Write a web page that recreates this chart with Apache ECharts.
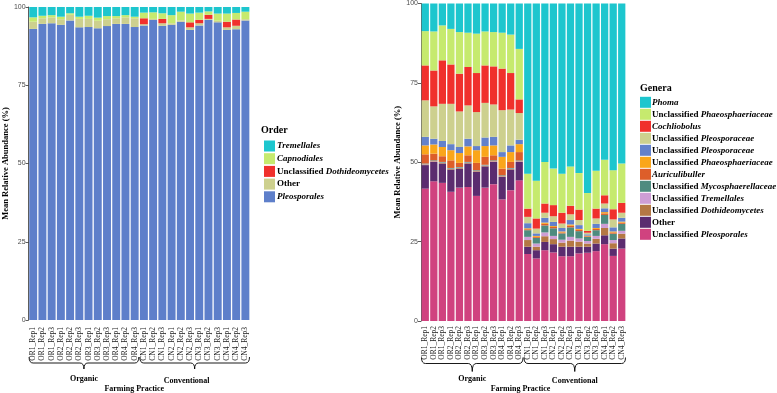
<!DOCTYPE html>
<html><head><meta charset="utf-8">
<script src="https://cdn.jsdelivr.net/npm/echarts@6/dist/echarts.min.js"></script>
<style>html,body{margin:0;padding:0;background:#fff}#c{width:777px;height:393px}</style>
</head><body><div id="c"></div>
<script>
// ---------- categories ----------
const samples = ['OR1_Rep1','OR1_Rep2','OR1_Rep3','OR2_Rep1','OR2_Rep2','OR2_Rep3','OR3_Rep1','OR3_Rep2','OR3_Rep3','OR4_Rep1','OR4_Rep2','OR4_Rep3',
                 'CN1_Rep1','CN1_Rep2','CN1_Rep3','CN2_Rep1','CN2_Rep2','CN2_Rep3','CN3_Rep1','CN3_Rep2','CN3_Rep3','CN4_Rep1','CN4_Rep2','CN4_Rep3'];
const groups = ['Organic','Conventional'];
const groupSize = 12;
const yTicks = [0,25,50,75,100];

// ---------- Order (left) — stacked bottom-up ----------
const orderNames = ['Pleosporales','Other','Unclassified Dothideomycetes','Capnodiales','Tremellales'];
const ordPleosporales = [93.0,94.6,94.8,94.3,95.7,93.5,93.6,93.2,93.9,94.6,94.6,93.6, 94.1,95.9,94.0,94.3,95.3,92.7,94.1,95.9,95.1,92.7,92.9,95.7];
const ordOther        = [2.3,1.8,1.9,1.8,1.8,2.7,2.6,2.4,2.2,1.8,2.1,2.8, 0.4,0.3,0.8,0.5,0.4,0.8,0.7,0.3,0.5,0.8,1.1,0.4];
const ordDothideo     = [0,0,0,0,0,0,0,0,0,0,0,0, 1.9,0,1.4,0,0,1.6,1.1,1.3,0,1.8,2.0,0];
const ordCapnodiales  = [1.4,0.8,0.7,0.8,0.5,0.7,1.0,1.0,1.0,0.7,0.7,0.5, 1.8,2.1,1.8,2.6,2.8,2.8,2.3,1.1,2.3,2.6,2.1,2.4];
const ordTremellales  = [3.3,2.8,2.6,3.1,2.0,3.1,2.8,3.4,2.9,2.9,2.6,3.1, 1.8,1.7,2.0,2.6,1.5,2.1,1.8,1.4,2.1,2.1,1.9,1.5];
const orderValues = [ordPleosporales, ordOther, ordDothideo, ordCapnodiales, ordTremellales];
const orderColors = ['#5E7FCA','#CDD08E','#F0302C','#C6EA6E','#1DC6CE'];

// ---------- Genera (right) — stacked bottom-up ----------
const generaNames = ['Unclassified Pleosporales','Other','Unclassified Dothideomycetes','Unclassified Tremellales','Unclassified Mycosphaerellaceae',
  'Auriculibuller','Unclassified Phaeosphaeriaceae','Unclassified Pleosporaceae','Unclassified Pleosporaceae','Cochliobolus','Unclassified Phaeosphaeriaceae','Phoma'];
const genPleosporales = [41.7,44.0,43.5,40.7,42.0,42.2,39.4,42.0,43.1,38.3,41.2,44.3, 21.1,19.7,22.3,21.6,20.4,20.4,21.3,21.5,22.0,24.2,20.5,22.8];
const genOther        = [7.4,6.1,6.1,7.0,6.0,7.4,7.6,6.7,7.0,7.1,6.5,5.8, 2.3,2.6,2.6,2.6,3.0,3.0,2.1,1.9,2.4,2.8,2.3,3.2];
const genDothideo     = [0.2,0.2,0.2,0.2,0.2,0.2,0.2,0.2,0.2,0.2,0.2,0.2, 2.1,1.1,1.8,1.6,1.3,1.9,1.6,1.0,1.5,2.3,1.7,1.5];
const genTremellales  = [0.1,0.1,0.1,0.1,0.1,0.1,0.1,0.1,0.1,0.1,0.1,0.1, 1.0,1.0,1.2,1.0,0.9,1.2,1.0,0.8,0.9,1.3,1.0,0.9];
const genMycosph      = [0.2,0.2,0.2,0.2,0.2,0.2,0.2,0.2,0.2,0.2,0.2,0.2, 2.1,1.8,2.2,2.4,2.0,3.0,2.3,1.3,1.8,2.8,2.0,2.2];
const genAuricul      = [2.9,2.1,1.8,2.4,1.3,2.1,2.3,2.5,1.6,2.1,1.9,2.6, 0.3,0.3,0.5,0.4,0.3,0.5,0.4,0.2,0.4,0.5,0.4,0.4];
const genPhaeoOrange  = [2.8,2.9,2.9,3.2,3.1,2.8,4.0,3.4,3.1,3.7,3.1,2.5, 0.3,0.3,0.4,0.3,0.3,0.4,0.3,0.2,0.3,0.4,0.3,0.3];
const genPleoBlue     = [2.7,1.8,1.9,1.9,1.9,2.4,1.3,2.7,2.7,1.5,2.1,1.4, 1.6,0.8,1.5,1.3,1.1,1.4,1.2,0.4,1.3,1.2,1.3,1.2];
const genPleoKhaki    = [11.5,10.2,11.7,12.7,11.2,10.5,10.7,10.9,10.2,13.2,11.3,8.4, 2.0,1.5,1.6,1.8,1.4,1.8,1.6,0.5,1.7,1.5,2.5,1.6];
const genCochliobolus = [11.0,11.3,13.7,12.4,11.9,12.1,12.3,11.8,12.0,13.1,11.5,4.3, 2.6,3.2,2.9,3.5,3.4,2.7,3.3,0.6,3.1,2.6,3.2,3.1];
const genPhaeoGreen   = [10.8,12.3,11.0,11.2,13.1,10.8,12.4,10.7,10.8,11.3,12.1,15.9, 11.0,11.9,13.1,11.5,12.3,12.4,11.5,11.9,11.9,11.2,12.3,12.4];
const genPhoma        = [8.7,8.8,6.9,8.0,9.0,9.2,9.5,8.8,9.0,9.2,9.8,14.3, 53.6,55.8,49.9,52.0,53.6,51.3,53.4,59.7,52.7,49.2,52.5,50.4];
const generaValues = [genPleosporales,genOther,genDothideo,genTremellales,genMycosph,genAuricul,genPhaeoOrange,genPleoBlue,genPleoKhaki,genCochliobolus,genPhaeoGreen,genPhoma];
const generaColors = ['#D0427F','#5B2C6F','#B47844','#CE9ED5','#4E8B7F','#DD5E2A','#FAA61A','#6381CB','#CDD08E','#F0302C','#C6EA6E','#1DC6CE'];

// ---------- build ----------
const SERIF = '"Liberation Serif","Times New Roman",serif';
const SANS = '"Liberation Sans",Arial,sans-serif';
const chart = echarts.init(document.getElementById('c'), null, {renderer:'canvas'});

const series = [];
const ordSeriesNames = orderNames.map((n,i)=>'O'+i+'|'+n);
const genSeriesNames = generaNames.map((n,i)=>'G'+i+'|'+n);
orderValues.forEach((vals,i)=>series.push({
  name: ordSeriesNames[i], type:'bar', stack:'order', xAxisIndex:0, yAxisIndex:0,
  data: vals, itemStyle:{color:orderColors[i]}, barCategoryGap:'14%'
}));
generaValues.forEach((vals,i)=>series.push({
  name: genSeriesNames[i], type:'bar', stack:'genera', xAxisIndex:1, yAxisIndex:1,
  data: vals, itemStyle:{color:generaColors[i]}, barCategoryGap:'15%'
}));

function legendLabel(name){
  const n = name.split('|')[1];
  if (n.indexOf('Unclassified ')===0) return '{b|Unclassified }{i|'+n.slice(13)+'}';
  if (n==='Other') return '{b|Other}';
  return '{i|'+n+'}';
}
const rich = {
  b:{fontFamily:SERIF,fontWeight:'bold',fontSize:9,color:'#000',lineHeight:11},
  i:{fontFamily:SERIF,fontWeight:'bold',fontStyle:'italic',fontSize:9,color:'#000',lineHeight:11}
};

function yAxis(gi){
  return {
    gridIndex:gi, type:'value', min:0, max:100, interval:25,
    name:'Mean Relative Abundance (%)', nameLocation:'middle', nameGap:gi===0?17:18,
    nameTextStyle:{fontFamily:SERIF,fontWeight:'bold',fontSize:8.5,color:'#000'},
    axisLine:{show:true,lineStyle:{color:'#333',width:0.8}},
    axisTick:{show:true,length:3,lineStyle:{color:'#333',width:0.8}},
    axisLabel:{fontFamily:SANS,fontSize:7,color:'#4d4d4d',margin:3,
      formatter:v=>yTicks.indexOf(v)>=0?String(v):''},
    splitLine:{show:false}
  };
}
function xAxis(gi){
  return {
    gridIndex:gi, type:'category', data:samples,
    axisLine:{show:false}, axisTick:{show:false},
    axisLabel:{interval:0,rotate:90,fontFamily:SERIF,fontSize:7.5,color:'#1a1a1a',margin:gi===0?7:5}
  };
}

chart.setOption({
  animation:false,
  backgroundColor:'#fff',
  grid:[
    {left:25, top:7, width:225, height:313},
    {left:421, top:3, width:205, height:318}
  ],
  xAxis:[xAxis(0), xAxis(1)],
  yAxis:[yAxis(0), yAxis(1)],
  title:[
    {text:'Order', left:261, top:125, padding:0, textStyle:{fontFamily:SERIF,fontWeight:'bold',fontSize:10,color:'#000'}},
    {text:'Genera', left:640, top:83, padding:0, textStyle:{fontFamily:SERIF,fontWeight:'bold',fontSize:10,color:'#000'}}
  ],
  legend:[
    {orient:'vertical', left:264, top:140.5, padding:0, itemWidth:11, itemHeight:11, itemGap:1.7, icon:'rect',
     selectedMode:false, data:ordSeriesNames.slice().reverse(), formatter:legendLabel,
     textStyle:{fontFamily:SERIF,fontSize:9,lineHeight:11,padding:[0,0,0,-3],rich:rich}},
    {orient:'vertical', left:640, top:96.8, padding:0, itemWidth:11, itemHeight:11, itemGap:1, icon:'rect',
     selectedMode:false, data:genSeriesNames.slice().reverse(), formatter:legendLabel,
     textStyle:{fontFamily:SERIF,fontSize:9,lineHeight:11,padding:[0,0,0,-4],rich:rich}}
  ],
  series: series
});

// ---------- braces & group labels (positioned from the axes) ----------
const LS = {stroke:'#000', lineWidth:0.9, fill:null};
function braceParts(x0,x1,y,up,down){
  const xc=(x0+x1)/2;
  return [
    {type:'bezierCurve', silent:true, shape:{x1:x0,y1:y-up,cpx1:x0,cpy1:y,x2:x0+4,y2:y}, style:LS},
    {type:'line', silent:true, shape:{x1:x0+4,y1:y,x2:xc-4,y2:y}, style:LS},
    {type:'bezierCurve', silent:true, shape:{x1:xc-4,y1:y,cpx1:xc,cpy1:y,x2:xc,y2:y+down}, style:LS},
    {type:'bezierCurve', silent:true, shape:{x1:xc,y1:y+down,cpx1:xc,cpy1:y,x2:xc+4,y2:y}, style:LS},
    {type:'line', silent:true, shape:{x1:xc+4,y1:y,x2:x1-4,y2:y}, style:LS},
    {type:'bezierCurve', silent:true, shape:{x1:x1-4,y1:y,cpx1:x1,cpy1:y,x2:x1,y2:y-up}, style:LS}
  ];
}
function txt(t,x,y){
  return {type:'text', silent:true, x:x, y:y,
    style:{text:t, font:'bold 8px '+SERIF, fill:'#000', align:'center', verticalAlign:'middle'}};
}
const graphics = [];
[0,1].forEach(ai=>{
  const p0 = chart.convertToPixel({xAxisIndex:ai}, 0);
  const p1 = chart.convertToPixel({xAxisIndex:ai}, 1);
  const band = p1 - p0;
  const yLine = ai===0 ? 363 : 363.5;
  const down = ai===0 ? 6 : 8;
  const centers = [];
  groups.forEach((g,gi)=>{
    const first = chart.convertToPixel({xAxisIndex:ai}, gi*groupSize);
    const last = chart.convertToPixel({xAxisIndex:ai}, gi*groupSize+groupSize-1);
    const x0 = first - band/2 + 0.5, x1 = last + band/2 - 0.5;
    braceParts(x0,x1,yLine,6,down).forEach(p=>graphics.push(p));
    const xc=(x0+x1)/2;
    centers.push(xc);
    const tx = (ai===0 && gi===1) ? xc-8 : xc;
    const ty = gi===0 ? 379 : 381;
    graphics.push(txt(g,tx,ty));
  });
  const mid = (centers[0]+centers[1])/2 + (ai===0?-5:-3);
  graphics.push(txt('Farming Practice',mid,389));
});
chart.setOption({graphic:{elements:graphics}});
</script>
</body></html>
